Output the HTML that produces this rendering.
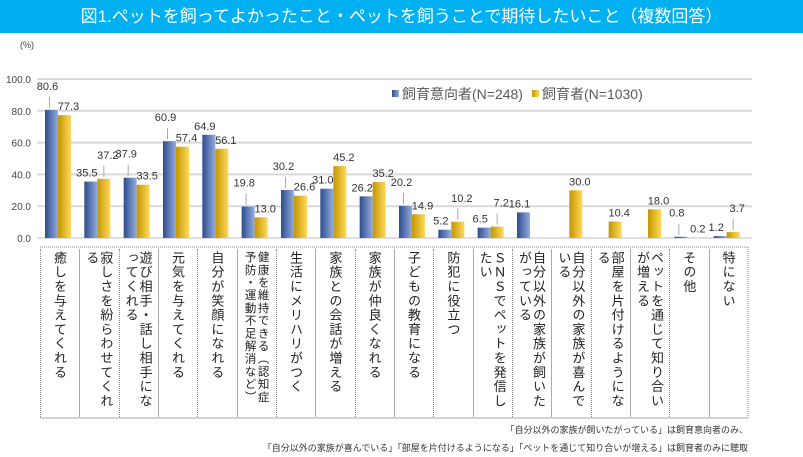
<!DOCTYPE html>
<html><head><meta charset="utf-8">
<style>
body{margin:0;width:803px;height:457px;background:#fff;overflow:hidden;font-family:"Liberation Sans","Noto Sans CJK JP",sans-serif;}
#title{position:absolute;left:0;top:0;width:803px;height:33px;background:#00b0f0;color:#fff;font-size:17px;line-height:33px;text-align:center;}
svg{position:absolute;left:0;top:0}
.lab{position:absolute;top:249px;width:39px;height:168px;display:flex;justify-content:center;box-sizing:border-box;padding-top:2px;}
.lab span{writing-mode:vertical-rl;font-size:13px;line-height:14px;letter-spacing:1.3px;color:#222;font-family:"Noto Sans CJK JP",sans-serif;max-height:160px;}
.lab span.small{font-size:11.5px;letter-spacing:1.2px;line-height:13px;max-height:164px;}
.note{position:absolute;right:55px;font-size:9px;color:#333;font-family:"Noto Sans CJK JP",sans-serif;}
</style></head><body>
<div id="title">図1.ペットを飼ってよかったこと・ペットを飼うことで期待したいこと（複数回答）</div>
<svg id="chart" width="803" height="457">
<defs>
<linearGradient id="gb" x1="0" x2="1"><stop offset="0" stop-color="#2e4c8c"/><stop offset="1" stop-color="#94acdf"/></linearGradient>
<linearGradient id="gg" x1="0" x2="1"><stop offset="0" stop-color="#c39600"/><stop offset="1" stop-color="#ffd95c"/></linearGradient>
</defs>
</svg>
<div id="labels"></div>
<div class="note" style="top:423px">「自分以外の家族が飼いたがっている」は飼育意向者のみ、</div>
<div class="note" style="top:441px">「自分以外の家族が喜んでいる」「部屋を片付けるようになる」「ペットを通じて知り合いが増える」は飼育者のみに聴取</div>
<script>
const categories=["癒しを与えてくれる","寂しさを紛らわせてくれる","遊び相手・話し相手になってくれる","元気を与えてくれる","自分が笑顔になれる","健康を維持できる（認知症予防・運動不足解消など）","生活にメリハリがつく","家族との会話が増える","家族が仲良くなれる","子どもの教育になる","防犯に役立つ","ＳＮＳでペットを発信したい","自分以外の家族が飼いたがっている","自分以外の家族が喜んでいる","部屋を片付けるようになる","ペットを通じて知り合いが増える","その他","特にない"];
const intent=[80.6,35.5,37.9,60.9,64.9,19.8,30.2,31.0,26.2,20.2,5.2,6.5,16.1,null,null,null,0.8,1.2];
const owners=[77.3,37.2,33.5,57.4,56.1,13.0,26.6,45.2,35.2,14.9,10.2,7.2,null,30.0,10.4,18.0,0.2,3.7];
const yTicks=[0,20,40,60,80,100];
const seriesNames=["飼育意向者(N=248)","飼育者(N=1030)"];
const svg=document.getElementById('chart');const NS="http://www.w3.org/2000/svg";
const X0=40,X1=748,Y0=238,Y100=79;
const cw=(X1-X0)/categories.length;
const y=v=>Y0-(v/100)*(Y0-Y100);
function mk(t,a,txt){const e=document.createElementNS(NS,t);for(const k in a)e.setAttribute(k,a[k]);if(txt!=null)e.textContent=txt;svg.appendChild(e);return e;}
yTicks.forEach(t=>{
 const g=mk('line',{x1:X0-3,x2:X1+4,y1:y(t),y2:y(t),stroke:t===0?'#bfbfbf':'#d9d9d9','stroke-width':t===0?1:2});
 
 
 const l=mk('text',{x:31,y:y(t)+4,'font-size':10,fill:'#444','text-anchor':'end'},t.toFixed(1));
 
 
});
const pu=mk('text',{x:20,y:48,'font-size':9,fill:'#444'},'(%)');


categories.forEach((c,i)=>{
 const cx=X0+i*cw;const bw=13;
 const bx=cx+5,gx=cx+18;
 const a=intent[i],b=owners[i];
 let ay=0,by=0;
 if(a!=null&&b!=null&&Math.abs(a-b)<8){if(a>=b)ay=-15;else by=-15;}
 if(a!=null){
  const r=mk('rect',{x:bx,y:y(a),width:bw,height:Y0-y(a),fill:'url(#gb)'});
  
  
  if(ay)mk('line',{x1:bx+bw/2-2,x2:bx+bw/2-2,y1:y(a)-2,y2:y(a)+ay+2,stroke:'#aaa'});
  const t=mk('text',{x:bx+bw/2-4,y:y(a)-5+ay,'font-size':11,fill:'#333','text-anchor':'middle'},a.toFixed(1));
  
  
 }
 if(b!=null){
  const r=mk('rect',{x:gx,y:y(b),width:bw,height:Y0-y(b),fill:'url(#gg)'});
  
  
  if(by)mk('line',{x1:gx+bw/2,x2:gx+bw/2,y1:y(b)-2,y2:y(b)+by+2,stroke:'#aaa'});
  const t=mk('text',{x:gx+bw/2+4,y:y(b)-5+by,'font-size':11,fill:'#333','text-anchor':'middle'},b.toFixed(1));
  
  
 }
 const d=document.createElement('div');d.className='lab';d.style.left=(cx)+'px';
 const s=document.createElement('span');s.textContent=c;if(c.length>22)s.className='small';d.appendChild(s);
 d.style.borderLeft=(i%2===0?'1px dotted #888':'1px solid #aaa');
 
 
 document.getElementById('labels').appendChild(d);
});
mk('line',{x1:X1,x2:X1,y1:247,y2:418,stroke:'#888','stroke-dasharray':'1,1'});
mk('line',{x1:X0,x2:X1,y1:247,y2:247,stroke:'#888','stroke-dasharray':'1,1'});
mk('line',{x1:X0,x2:X1,y1:418,y2:418,stroke:'#aaa'});
const lx=[392,532];const cols=['url(#gb)','url(#gg)'];
seriesNames.forEach((n,k)=>{
 const r=mk('rect',{x:lx[k],y:90,width:7,height:7,fill:cols[k]});
 
 
 const t=mk('text',{x:lx[k]+10,y:99,'font-size':14,fill:'#595959'},n);
 
 
});
</script>
</body></html>
